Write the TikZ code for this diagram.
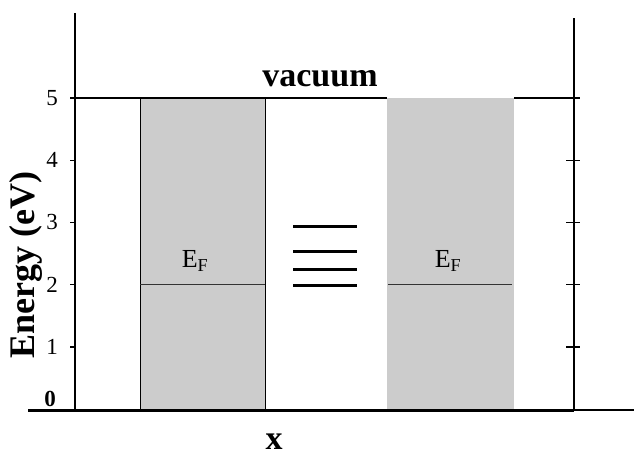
\documentclass[tikz,border=0pt]{standalone}
\usepackage{fontspec}
\setmainfont{Liberation Serif}
\usepackage{xcolor}
\usepackage{tikz}
\usetikzlibrary{positioning}

\definecolor{bandgray}{gray}{0.8}

\begin{document}
\begin{tikzpicture}[
  x=1pt, y=1pt,
  axis/.style={line width=1.4pt},
  band/.style={fill=bandgray},
  fermi/.style={line width=0.9pt, black!80},
  level/.style={line width=3pt},
  lbl/.style={font=\fontsize{34}{34}\selectfont\bfseries, inner sep=0pt},
  ticklbl/.style={font=\fontsize{23}{23}\selectfont, inner sep=0pt},
  eflbl/.style={font=\fontsize{26}{26}\selectfont, inner sep=0pt}
]
\useasboundingbox (0,0) rectangle (634,456);

% bands (metal contacts)
\fill[band] (140,47) rectangle (265,358);
\draw[axis, line width=1pt] (140,47) -- (140,358) (265,47) -- (265,358);
\fill[band] (387,47) rectangle (514,358);

% axes
\coordinate (origin) at (75,47);
\coordinate (ytop) at (75,443);
\coordinate (rbot) at (574,46);
\coordinate (rtop) at (574,438);
\coordinate (xleft) at (28,46);
\coordinate (xright) at (634,46);
\draw[axis] (origin) -- (ytop);
\draw[axis] (rbot) -- (rtop);
\draw[line width=3pt] (xleft) -- (rbot);
\draw[axis] (rbot) -- (xright);

% vacuum level
\draw[axis] (70,358) -- (387,358);
\draw[axis] (514,358) -- (580,358);

% ticks
\foreach \e in {1,...,5} {
  \draw[axis] (70,47+62.2*\e) -- (75,47+62.2*\e);
  \node[ticklbl] (tl\e) at (52,47+62.2*\e) {\e};
}
\foreach \e in {1,...,4}
  \draw[axis] (566,47+62.2*\e) -- (580,47+62.2*\e);
\node[ticklbl, font=\fontsize{23}{23}\selectfont\bfseries] (tl0) at (50,57) {0};

% Fermi levels
\draw[fermi] (140,171.4) -- (265,171.4);
\draw[fermi] (388,171.4) -- (512,171.4);
\node[eflbl] (efl) at (195,195) {E\textsubscript{F}};
\node[eflbl] (efr) at (448,195) {E\textsubscript{F}};

% molecular levels
\foreach \yy in {230,205,187,171}
  \draw[level] (293,\yy) -- (357,\yy);

% labels
\node[lbl] (vac) at (320,377) {vacuum};
\node[lbl] (xlab) at (274,14) {x};
\node[lbl, font=\fontsize{36}{36}\selectfont\bfseries, rotate=90] (elab) at (26,191) {Energy (eV)};
\end{tikzpicture}
\end{document}
